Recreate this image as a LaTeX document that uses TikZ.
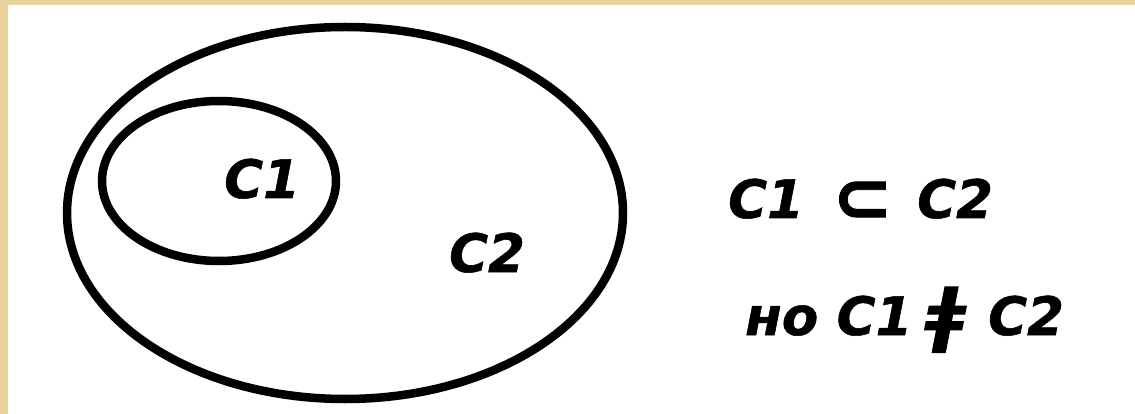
\documentclass[tikz,border=0pt]{standalone}
\usepackage{fontspec}
\setmainfont{DejaVu Sans}
\newfontfamily\labelfont[FakeBold=1.0]{DejaVu Sans Bold Oblique}
\newfontfamily\symfont[FakeBold=1.2]{DejaVu Sans Bold}
\newfontfamily\symslant[FakeBold=1.4]{DejaVu Sans Bold Oblique}
\definecolor{frame}{HTML}{E9D29E}
\tikzset{
  setline/.style={draw=black, line width=8.5pt},
  setname/.style={font=\labelfont\fontsize{53}{53}\selectfont, inner sep=0pt, anchor=base west},
  subsym/.style={font=\symfont\fontsize{72}{72}\selectfont, inner sep=0pt, anchor=base west},
  barsym/.style={font=\symslant\fontsize{70}{70}\selectfont, inner sep=0pt, anchor=base west},
}
\begin{document}
\begin{tikzpicture}[x=1pt,y=-1pt]
  % paper with a thin frame on the top and left
  \useasboundingbox (0,0) rectangle (1135,414);
  \fill[frame] (0,0) rectangle (1135,414);
  \fill[white] (8,5) rectangle (1135,414);

  % the two sets
  \draw[setline] (345,213) ellipse [x radius=278, y radius=186];
  \draw[setline] (219,181) ellipse [x radius=117, y radius=80];
  \node[setname] (c1) at (224,198) {C1};
  \node[setname] (c2) at (449,272) {C2};

  % relations
  \node[setname] (r1a) at (728,218) {C1};
  \node[subsym]  (sub) at (832,222) {⊂};
  \node[setname] (r1b) at (917,218) {C2};

  \node[setname] (no)  at (745,335) {но C1};
  \node[barsym]  (neq) at (926,338) {ǂ};
  \node[setname] (r2b) at (988,335) {C2};
\end{tikzpicture}
\end{document}
